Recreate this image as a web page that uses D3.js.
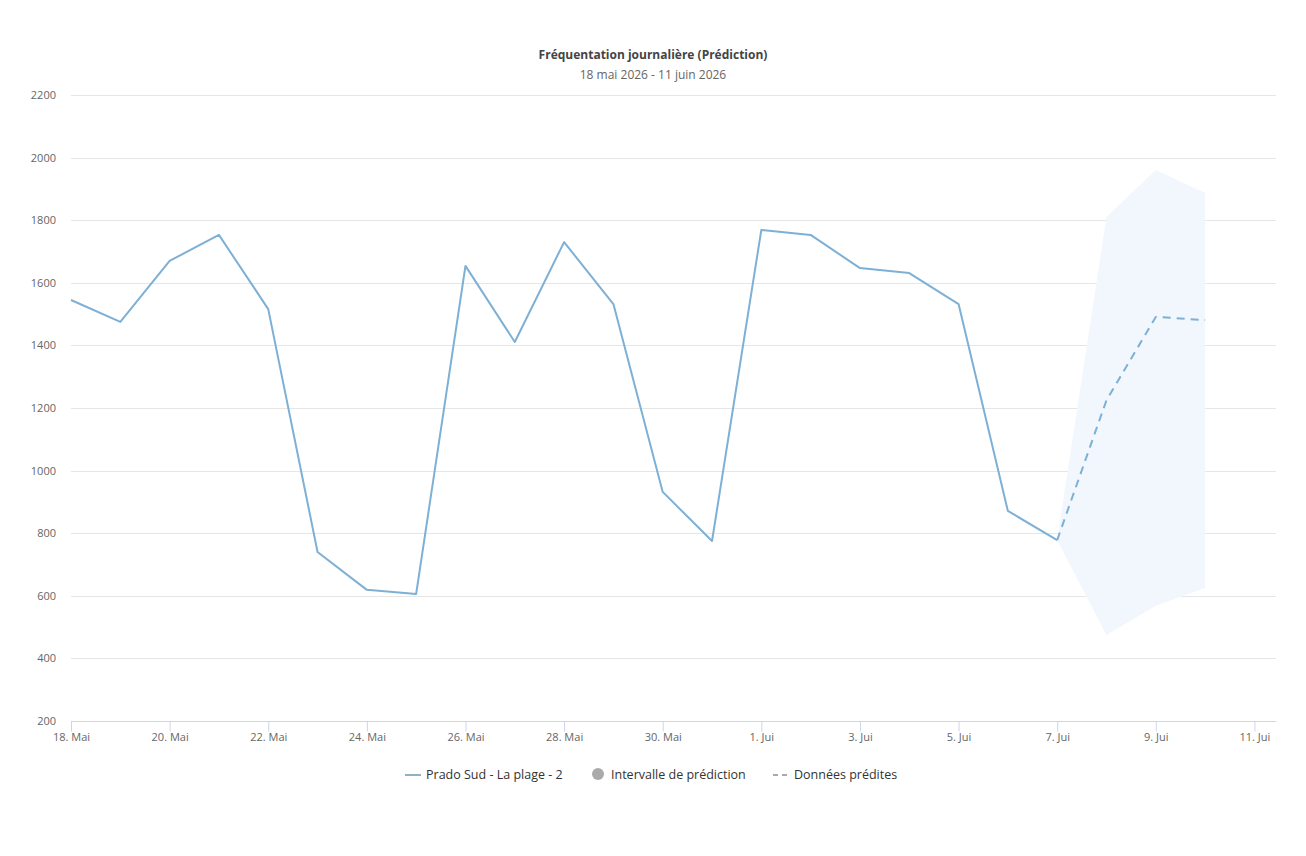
<!DOCTYPE html>
<html lang="fr">
<head>
<meta charset="UTF-8">
<title>Fréquentation journalière (Prédiction)</title>
<style>
    body { margin: 0; background: #fff; font-family: "Open Sans", "Noto Sans", sans-serif; }
    .grid line { stroke: #e6e6e6; }
    .axis text { fill: #666; font-size: 11px; font-family: "Open Sans", sans-serif; }
</style>
</head>
<body>
<script src="https://cdn.jsdelivr.net/npm/d3@7"></script>
<script>
    // jours observés (18 mai -> 7 juin)
    var observedDays = ["2026-05-18","2026-05-19","2026-05-20","2026-05-21","2026-05-22","2026-05-23","2026-05-24",
        "2026-05-25","2026-05-26","2026-05-27","2026-05-28","2026-05-29","2026-05-30","2026-05-31",
        "2026-06-01","2026-06-02","2026-06-03","2026-06-04","2026-06-05","2026-06-06","2026-06-07"];
    var observedValues = [1545,1475,1670,1753,1516,740,619,606,1654,1411,1730,1532,932,775,
        1769,1753,1647,1631,1532,871,778];
    // prédiction
    var predDays = ["2026-06-07","2026-06-08","2026-06-09","2026-06-10"];
    var predValues = [778,1225,1491,1481];
    var predLow = [778,475,568,625];
    var predHigh = [778,1810,1960,1887];
    var yTicks = [200,400,600,800,1000,1200,1400,1600,1800,2000,2200];
    var xTickDays = ["2026-05-18","2026-05-20","2026-05-22","2026-05-24","2026-05-26","2026-05-28","2026-05-30",
        "2026-06-01","2026-06-03","2026-06-05","2026-06-07","2026-06-09","2026-06-11"];
    var monthNames = ["Jan","Fév","Mar","Avr","Mai","Jui","Jui","Aoû","Sep","Oct","Nov","Déc"];

    var W = 1306, H = 856;
    var mLeft = 71, mRight = 1276, mTop = 95, mBottom = 721;
    var parse = d3.timeParse("%Y-%m-%d");

    var svg = d3.select("body").append("svg").attr("width", W).attr("height", H);

    var x = d3.scaleTime()
        .domain([parse("2026-05-18"), new Date(2026, 5, 11, 10, 30)])
        .range([mLeft, mRight]);
    var y = d3.scaleLinear().domain([200, 2200]).range([mBottom, mTop]);

    // grille
    svg.append("g").attr("class", "grid")
        .selectAll("line").data(yTicks.slice(1)).enter().append("line")
        .attr("x1", mLeft).attr("x2", mRight)
        .attr("y1", function (d) { return Math.round(y(d)) + 0.5; })
        .attr("y2", function (d) { return Math.round(y(d)) + 0.5; });

    // axe y
    svg.append("g").attr("class", "axis")
        .selectAll("text").data(yTicks).enter().append("text")
        .attr("x", 56).attr("y", function (d) { return y(d) + 4; })
        .attr("text-anchor", "end")
        .text(function (d) { return d; });

    // axe x
    var xAxis = d3.axisBottom(x)
        .tickValues(xTickDays.map(parse))
        .tickSize(10)
        .tickFormat(function (d) { return d.getDate() + ". " + monthNames[d.getMonth()]; });
    var gx = svg.append("g").attr("class", "axis")
        .attr("transform", "translate(0," + (mBottom + 0.5) + ")")
        .call(xAxis)
        .attr("font-family", null).attr("font-size", null);
    gx.select(".domain").attr("stroke", "#ccd6eb").attr("d", "M" + mLeft + ",0H" + mRight);
    gx.selectAll(".tick line").attr("stroke", "#ccd6eb").attr("y1", 0).attr("y2", 10);
    gx.selectAll(".tick text").attr("dy", "0").attr("y", 19).attr("fill", "#666");

    // intervalle de prédiction
    var band = predDays.map(function (d, i) { return { date: parse(d), lo: predLow[i], hi: predHigh[i] }; });
    svg.append("path").datum(band)
        .attr("fill", "#f1f7fd")
        .attr("d", d3.area()
            .x(function (d) { return x(d.date); })
            .y0(function (d) { return y(d.lo); })
            .y1(function (d) { return y(d.hi); }));

    // série observée
    var obs = observedDays.map(function (d, i) { return { date: parse(d), v: observedValues[i] }; });
    var line = d3.line().x(function (d) { return x(d.date); }).y(function (d) { return y(d.v); });
    svg.append("path").datum(obs)
        .attr("fill", "none").attr("stroke", "#7eb0d5").attr("stroke-width", 2)
        .attr("stroke-linejoin", "round")
        .attr("d", line);

    // série prédite
    var pred = predDays.map(function (d, i) { return { date: parse(d), v: predValues[i] }; });
    svg.append("path").datum(pred)
        .attr("fill", "none").attr("stroke", "#7eb0d5").attr("stroke-width", 2)
        .attr("stroke-dasharray", "8,6")
        .attr("d", line);

    // titre
    svg.append("text").attr("x", W / 2).attr("y", 59).attr("text-anchor", "middle")
        .attr("fill", "#444").style("font-size", "12px").style("font-weight", "bold")
        .text("Fréquentation journalière (Prédiction)");
    svg.append("text").attr("x", W / 2).attr("y", 79).attr("text-anchor", "middle")
        .attr("fill", "#666").style("font-size", "12px")
        .text("18 mai 2026 - 11 juin 2026");

    // légende
    var lg = svg.append("g").attr("transform", "translate(0,775)");
    lg.append("line").attr("x1", 405).attr("x2", 421).attr("y1", 0).attr("y2", 0)
        .attr("stroke", "#8cb3c4").attr("stroke-width", 2);
    lg.append("text").attr("x", 426).attr("y", 4).attr("fill", "#333").style("font-size", "12.5px")
        .text("Prado Sud - La plage - 2");
    lg.append("circle").attr("cx", 598).attr("cy", -1).attr("r", 6).attr("fill", "#aaa");
    lg.append("text").attr("x", 611).attr("y", 4).attr("fill", "#333").style("font-size", "12.5px")
        .text("Intervalle de prédiction");
    lg.append("line").attr("x1", 773).attr("x2", 789).attr("y1", 0).attr("y2", 0)
        .attr("stroke", "#aaa").attr("stroke-width", 2).attr("stroke-dasharray", "5,4");
    lg.append("text").attr("x", 794).attr("y", 4).attr("fill", "#333").style("font-size", "12.5px")
        .text("Données prédites");
</script>
</body>
</html>
